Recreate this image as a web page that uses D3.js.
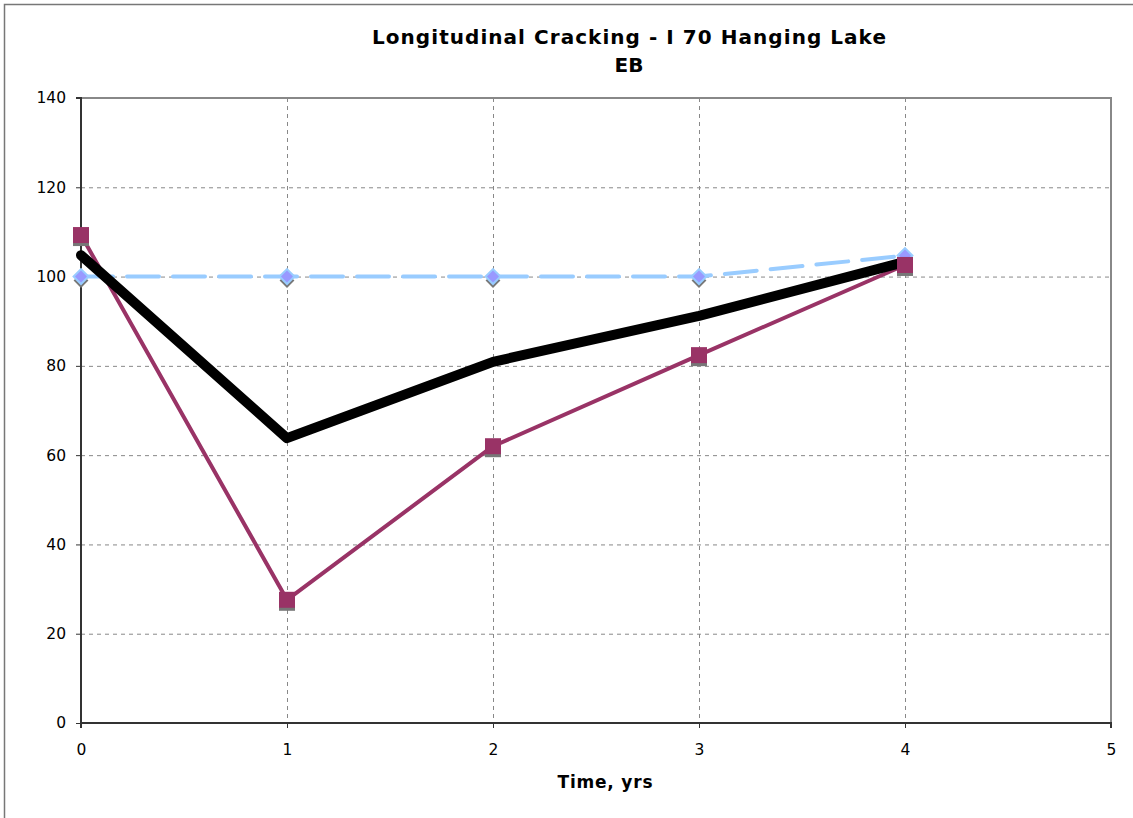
<!DOCTYPE html>
<html>
<head>
<meta charset="utf-8">
<script src="https://cdn.jsdelivr.net/npm/d3@7"></script>
<style>
  body { margin: 0; background: #fff; }
  svg { display: block; font-family: "DejaVu Sans", Verdana, sans-serif; }
</style>
</head>
<body>
<div id="chart"></div>
<script>
// chart data
const years = [0, 1, 2, 3, 4];
const seriesBlack = [104.8, 63.8, 80.9, 91.2, 103.3];
const seriesSquare = [109.3, 27.6, 62, 82.4, 102.6];
const seriesDiamond = [100, 100, 100, 100, 104.7];
const xTicks = [0, 1, 2, 3, 4, 5];
const yTicks = [0, 20, 40, 60, 80, 100, 120, 140];

const width = 1133, height = 818;
const plot = { left: 81, right: 1111, top: 98, bottom: 723 };

const svg = d3.select("#chart")
    .append("svg")
    .attr("width", width)
    .attr("height", height);

// outer chart frame
svg.append("rect")
    .attr("x", 4.5).attr("y", 4.5)
    .attr("width", width + 10).attr("height", height + 10)
    .attr("fill", "#fff")
    .attr("stroke", "#777").attr("stroke-width", 1.5);

const x = d3.scaleLinear().domain([0, 5]).range([plot.left, plot.right]);
const y = d3.scaleLinear().domain([0, 140]).range([plot.bottom, plot.top]);

// gridlines
svg.append("g").selectAll("line.gy")
    .data(yTicks.filter(d => d > 0 && d < 140))
    .enter().append("line")
    .attr("x1", plot.left).attr("x2", plot.right)
    .attr("y1", d => y(d) + 0.5).attr("y2", d => y(d) + 0.5)
    .attr("stroke", "#888").attr("stroke-dasharray", "4,4");

svg.append("g").selectAll("line.gx")
    .data(xTicks.filter(d => d > 0 && d < 5))
    .enter().append("line")
    .attr("x1", d => x(d) + 0.5).attr("x2", d => x(d) + 0.5)
    .attr("y1", plot.top).attr("y2", plot.bottom)
    .attr("stroke", "#888").attr("stroke-dasharray", "4,4");

// plot border top/right
svg.append("path")
    .attr("d", `M${plot.left},${plot.top}H${plot.right}V${plot.bottom}`)
    .attr("fill", "none")
    .attr("stroke", "#888").attr("stroke-width", 2);

// axes
const yAxis = svg.append("g")
    .attr("transform", `translate(${plot.left},0)`)
    .call(d3.axisLeft(y).tickValues(yTicks).tickSize(5).tickPadding(10));
const xAxis = svg.append("g")
    .attr("transform", `translate(0,${plot.bottom})`)
    .call(d3.axisBottom(x).tickValues(xTicks).tickFormat(d3.format("d"))
        .tickSize(5).tickPadding(16));

[xAxis, yAxis].forEach(a => {
    a.select(".domain").attr("stroke", "#333").attr("stroke-width", 2);
    a.selectAll(".tick line").attr("stroke", "#333");
    a.selectAll("text")
        .attr("font-size", 15.5)
        .attr("fill", "#000")
        .attr("font-family", "\"DejaVu Sans\", Verdana, sans-serif");
});
yAxis.select(".domain").attr("d", `M-5,${plot.top}H0V${plot.bottom}`);
xAxis.select(".domain").attr("d", `M${plot.left},5V0H${plot.right}V5`);

// titles
svg.append("text")
    .attr("x", 629).attr("y", 44)
    .attr("text-anchor", "middle")
    .attr("font-size", 20).attr("font-weight", "bold")
    .attr("textLength", 514).attr("lengthAdjust", "spacing")
    .text("Longitudinal Cracking - I 70 Hanging Lake");
svg.append("text")
    .attr("x", 629).attr("y", 72)
    .attr("text-anchor", "middle")
    .attr("font-size", 20).attr("font-weight", "bold")
    .text("EB");
svg.append("text")
    .attr("x", 605).attr("y", 788)
    .attr("text-anchor", "middle")
    .attr("font-size", 17).attr("font-weight", "bold")
    .attr("textLength", 95).attr("lengthAdjust", "spacing")
    .text("Time, yrs");

const line = d3.line()
    .x((d, i) => x(years[i]))
    .y(d => y(d));

// lines
svg.append("path")
    .datum(seriesSquare)
    .attr("d", line)
    .attr("fill", "none")
    .attr("stroke", "#993366").attr("stroke-width", 4)
    .attr("stroke-linejoin", "round");

svg.append("path")
    .datum(seriesDiamond)
    .attr("d", line)
    .attr("fill", "none")
    .attr("stroke", "#99CCFF").attr("stroke-width", 4)
    .attr("stroke-dasharray", "32,14")
    .attr("stroke-linecap", "round");

svg.append("path")
    .datum(seriesBlack)
    .attr("d", line)
    .attr("fill", "none")
    .attr("stroke", "#000").attr("stroke-width", 10)
    .attr("stroke-linejoin", "round")
    .attr("stroke-linecap", "round");

// diamond markers with shadow
const diamond = d3.symbol().type(d3.symbolSquare).size(110);
const diamonds = svg.append("g").selectAll("g")
    .data(seriesDiamond)
    .enter().append("g");
diamonds.append("path")
    .attr("d", diamond)
    .attr("transform", (d, i) => `translate(${x(years[i])},${y(d) + 4}) rotate(45)`)
    .attr("fill", "#777");
diamonds.append("path")
    .attr("d", diamond)
    .attr("transform", (d, i) => `translate(${x(years[i])},${y(d)}) rotate(45)`)
    .attr("fill", "#9999FF")
    .attr("stroke", "#99CCFF").attr("stroke-width", 2);

// square markers with shadow
const sq = 16;
const squares = svg.append("g").selectAll("g")
    .data(seriesSquare)
    .enter().append("g");
squares.append("rect")
    .attr("x", (d, i) => x(years[i]) - sq / 2)
    .attr("y", d => y(d) - sq / 2 + 3)
    .attr("width", sq).attr("height", sq)
    .attr("fill", "#777");
squares.append("rect")
    .attr("x", (d, i) => x(years[i]) - sq / 2)
    .attr("y", d => y(d) - sq / 2)
    .attr("width", sq).attr("height", sq)
    .attr("fill", "#993366");
</script>
</body>
</html>
